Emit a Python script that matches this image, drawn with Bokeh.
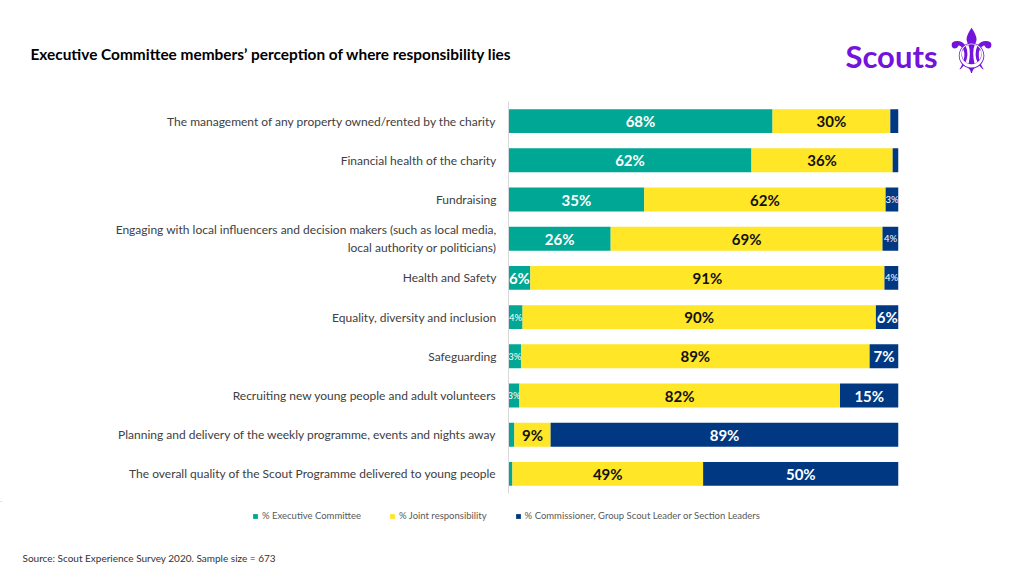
from bokeh.plotting import figure
from bokeh.models import Label, Legend, LegendItem, ColumnDataSource, FactorRange, Range1d
from bokeh.layouts import column
from bokeh.embed import file_html
from bokeh.resources import INLINE
from bokeh.core.properties import value

categories = [
    "The management of any property owned/rented by the charity",
    "Financial health of the charity",
    "Fundraising",
    "Engaging with local influencers and decision makers (such as local media,\nlocal authority or politicians)",
    "Health and Safety",
    "Equality, diversity and inclusion",
    "Safeguarding",
    "Recruiting new young people and adult volunteers",
    "Planning and delivery of the weekly programme, events and nights away",
    "The overall quality of the Scout Programme delivered to young people",
]
exec_pct = [67.7, 62.3, 34.8, 26.2, 5.6, 3.6, 3.2, 2.8, 1.5, 1.0]
joint_pct = [30.2, 36.2, 61.9, 69.7, 90.8, 90.6, 89.4, 82.2, 9.3, 48.9]
comm_pct = [2.1, 1.5, 3.3, 4.1, 3.6, 5.8, 7.4, 15.0, 89.2, 50.1]
exec_labels = ["68%", "62%", "35%", "26%", "6%", "4%", "3%", "3%", "", ""]
joint_labels = ["30%", "36%", "62%", "69%", "91%", "90%", "89%", "82%", "9%", "49%"]
comm_labels = ["", "", "3%", "4%", "4%", "6%", "7%", "15%", "89%", "50%"]
series_names = ["% Executive Committee", "% Joint responsibility",
                "% Commissioner, Group Scout Leader or Section Leaders"]

TEAL, YELLOW, NAVY, PURPLE = "#00a794", "#ffe627", "#003982", "#7413dc"
FONT = "Lato"
W = 1008


def blank(height):
    f = figure(width=W, height=height, output_backend="svg", toolbar_location=None,
               x_range=Range1d(0, W), y_range=Range1d(height, 0),
               min_border=0, min_border_left=0, min_border_right=0,
               min_border_top=0, min_border_bottom=0, frame_align=False)
    f.axis.visible = False
    f.grid.visible = False
    f.outline_line_color = None
    return f


# ---------- header ----------
HEADER_H = 101
head = blank(HEADER_H)
head.add_layout(Label(x=30, y=53,
                      text="Executive Committee members’ perception of where responsibility lies",
                      text_font=FONT, text_font_style="bold", text_font_size="15.4px",
                      text_color="#000000", text_baseline="middle"))
head.add_layout(Label(x=845, y=55, text="Scouts",
                      text_font=FONT, text_font_style="bold", text_font_size="31px",
                      text_color=PURPLE, text_baseline="middle"))
head.add_layout(Label(x=971, y=51, text="⚜",
                      text_font="DejaVu Sans", text_font_size="62px",
                      text_color=PURPLE, text_baseline="middle", text_align="center"))

# ---------- main chart ----------
src = ColumnDataSource(dict(cat=categories, exec=exec_pct, joint=joint_pct, comm=comm_pct))

p = figure(width=W, height=400, output_backend="svg", toolbar_location=None,
           y_range=FactorRange(factors=list(reversed(categories))),
           x_range=Range1d(0, 100), frame_align=False,
           min_border_left=508, min_border_right=W - 898, min_border_top=0, min_border_bottom=8)
p.outline_line_color = None
p.xgrid.visible = False
p.ygrid.visible = False
p.xaxis.visible = False
p.yaxis.axis_line_color = "#d9d9d9"
p.yaxis.major_tick_line_color = None
p.yaxis.major_tick_out = 0
p.yaxis.major_tick_in = 0
p.yaxis.minor_tick_line_color = None
p.yaxis.major_label_standoff = 12
p.yaxis.major_label_text_font = FONT
p.yaxis.major_label_text_font_size = "12px"
p.yaxis.major_label_text_color = "#404040"

rs = p.hbar_stack(["exec", "joint", "comm"], y="cat", height=0.61,
                  color=[TEAL, YELLOW, NAVY], line_color=None, source=src)

big = dict(x=[], cat=[], text=[], color=[])
small = dict(x=[], cat=[], text=[], color=[])
for i, c in enumerate(categories):
    start = 0.0
    for val, lab, col in ((exec_pct[i], exec_labels[i], "white"),
                          (joint_pct[i], joint_labels[i], "#111111"),
                          (comm_pct[i], comm_labels[i], "white")):
        mid = start + val / 2
        start += val
        if not lab:
            continue
        d = small if val < 5 else big
        d["x"].append(mid); d["cat"].append(c); d["text"].append(lab); d["color"].append(col)

p.text(x="x", y="cat", text="text", text_color="color", source=ColumnDataSource(big),
       text_align="center", text_baseline="middle", text_font=value(FONT),
       text_font_style="bold", text_font_size="15px")
p.text(x="x", y="cat", text="text", text_color="color", source=ColumnDataSource(small),
       text_align="center", text_baseline="middle", text_font=value(FONT),
       text_font_size="9.5px")

# ---------- footer: legend + source ----------
FOOT_H = 64
foot = blank(FOOT_H)
# legend swatches: off-screen placeholder bars, one per series
swatch = ColumnDataSource(dict(y=[-500], right=[1]))
leg_rs = [foot.hbar(y="y", right="right", height=1, fill_color=c, line_color=None, source=swatch)
          for c in (TEAL, YELLOW, NAVY)]
legend = Legend(items=[LegendItem(label=n, renderers=[r], index=0) for n, r in zip(series_names, leg_rs)],
                orientation="horizontal", location=(252, FOOT_H - 20),
                glyph_width=6, glyph_height=6, label_standoff=4, spacing=28,
                padding=0, margin=0, border_line_color=None, background_fill_alpha=0,
                label_text_font=FONT, label_text_font_size="9.5px", label_text_color="#595959",
                label_height=10)
foot.add_layout(legend)
foot.add_layout(Label(x=22, y=56, text="Source: Scout Experience Survey 2020. Sample size = 673",
                      text_font=FONT, text_font_size="10px", text_color="#333333",
                      text_baseline="middle"))

layout = column(head, p, foot)
open("out.html", "w").write(file_html(layout, INLINE))
